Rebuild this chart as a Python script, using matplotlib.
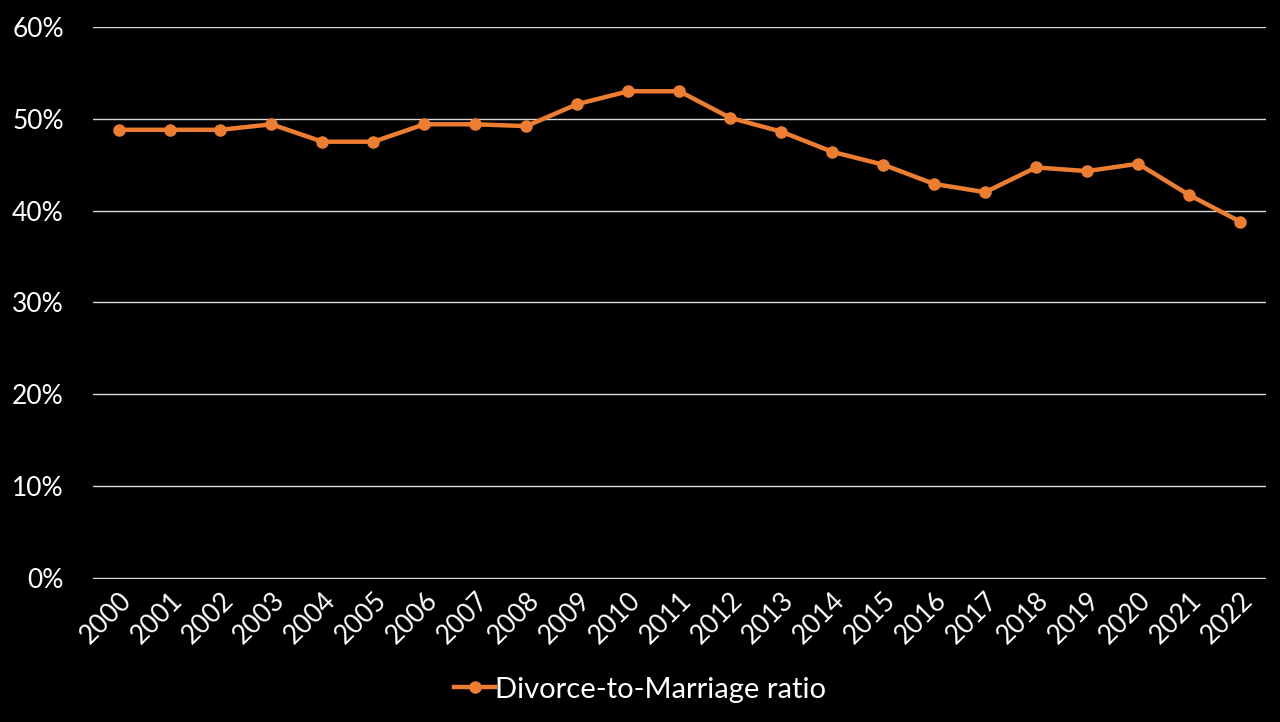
import matplotlib.pyplot as plt
from matplotlib.ticker import FuncFormatter, MultipleLocator

years = [str(y) for y in range(2000, 2023)]
ratio = [48.8, 48.8, 48.8, 49.4, 47.5, 47.5, 49.4, 49.4, 49.2, 51.6, 53.0, 53.0,
         50.1, 48.6, 46.4, 45.0, 42.9, 42.0, 44.7, 44.3, 45.1, 41.7, 38.8]

plt.rcParams['font.family'] = ['Lato', 'DejaVu Sans']

fig = plt.figure(figsize=(12.8, 7.22), dpi=100, facecolor='black')
ax = fig.add_axes([0.0727, 0.198, 0.916, 0.7646])
ax.set_facecolor('black')

x = list(range(len(years)))
ax.plot(x, ratio, color='#ED7D31', linewidth=3.2, marker='o', markersize=8,
        label='Divorce-to-Marriage ratio', zorder=3)

ax.set_ylim(-0.15, 60)
ax.set_xlim(-0.5, len(years) - 0.5)
ax.set_yticks(range(0, 61, 10))
ax.yaxis.set_major_formatter(FuncFormatter(lambda v, p: f'{int(round(v))}%'))
ax.set_xticks(x)
ax.set_xticklabels(years, rotation=45, ha='right', rotation_mode='anchor')

ax.grid(axis='y', color='#D9D9D9', linewidth=1.0)
ax.set_axisbelow(True)
for s in ax.spines.values():
    s.set_visible(False)
ax.tick_params(axis='both', length=0, colors='white', labelsize=19)
ax.tick_params(axis='y', pad=21)
ax.tick_params(axis='x', pad=6)

# legend centred on the figure, below the axis labels
leg = fig.legend(loc='center', bbox_to_anchor=(0.5, 0.045), frameon=False,
                 fontsize=21, handlelength=1.4, handletextpad=0.0)
for t in leg.get_texts():
    t.set_color('white')

fig.savefig('out.png', dpi=100, facecolor='black')
